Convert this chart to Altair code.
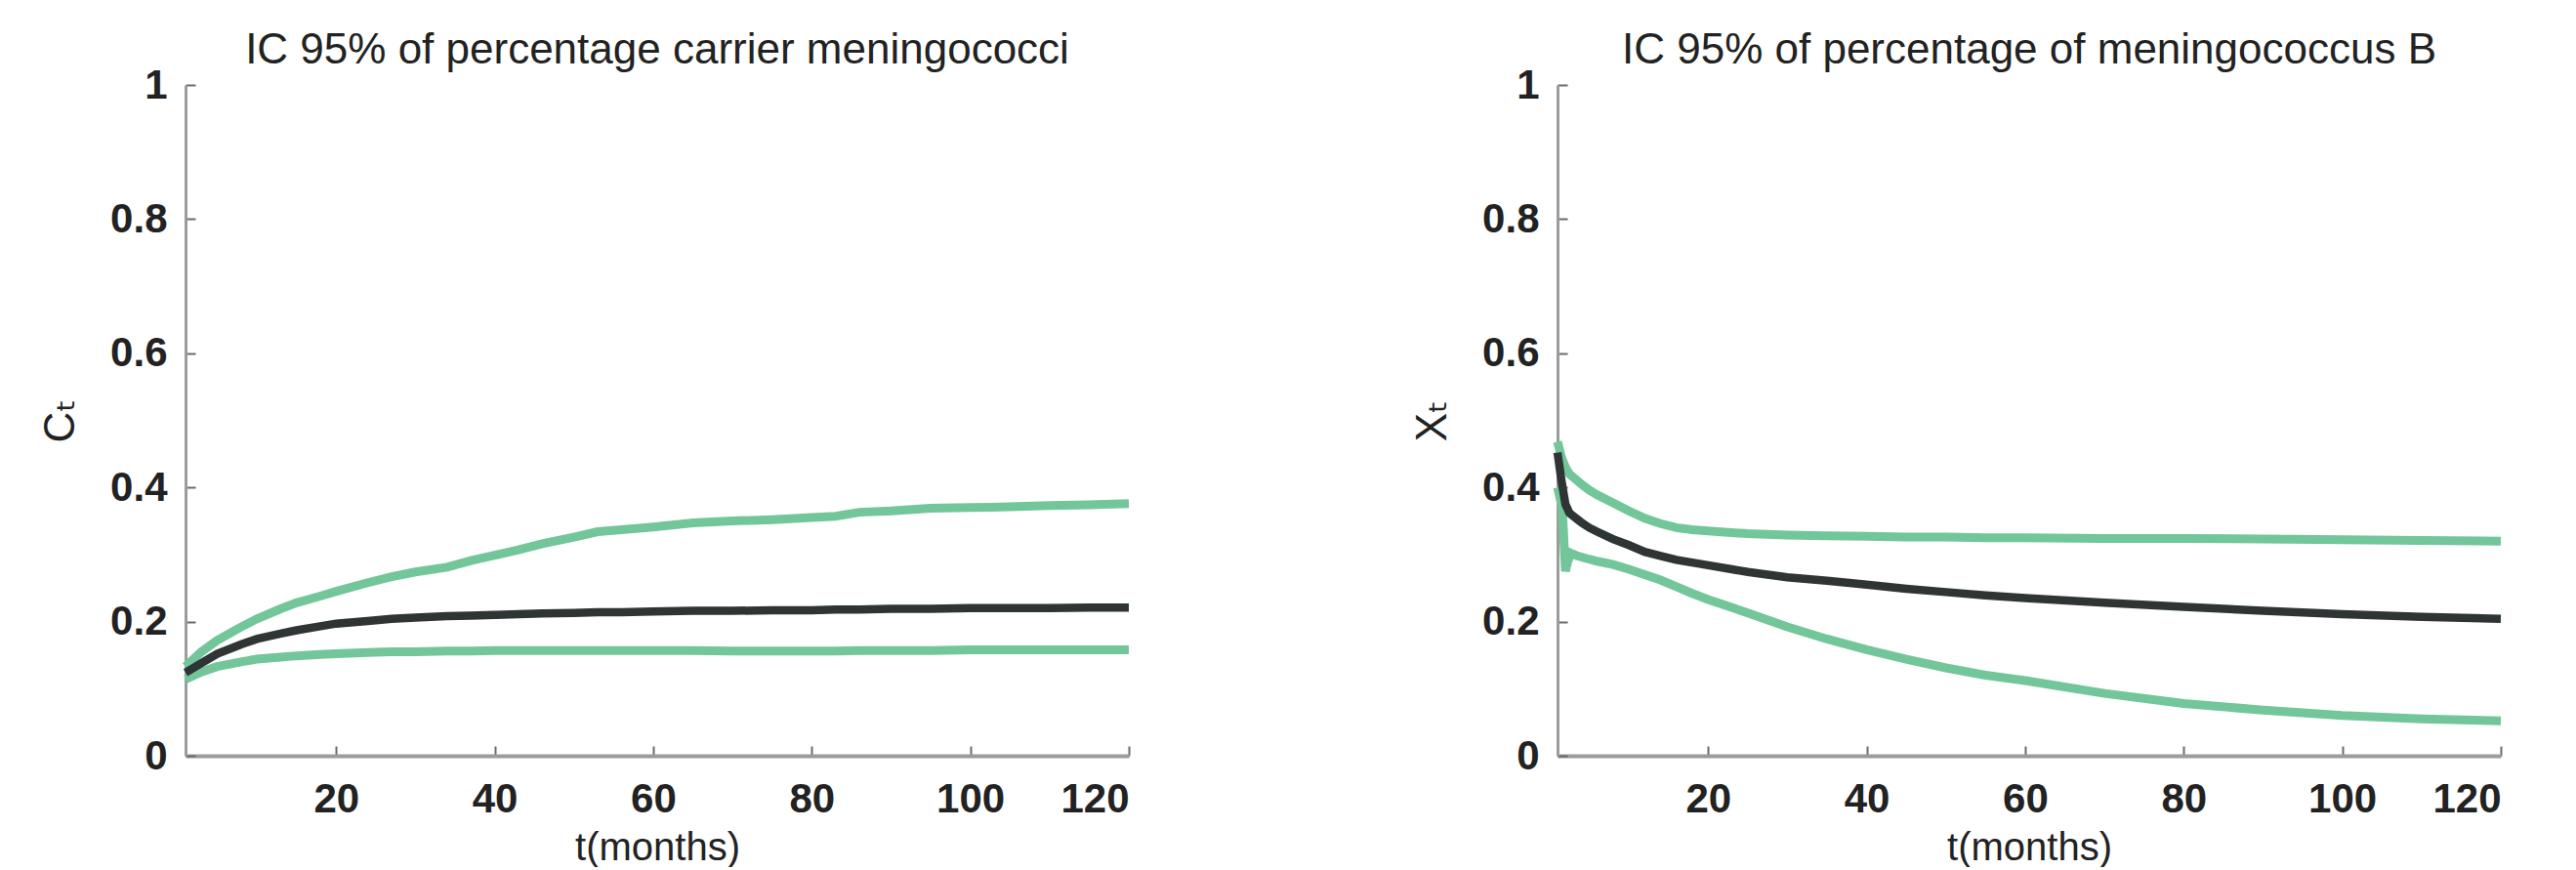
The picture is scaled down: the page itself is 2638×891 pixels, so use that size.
import altair as alt
import pandas as pd

# ---------------- data ----------------
months_c = [1, 3, 5, 8, 10, 13, 15, 18, 20, 24, 27, 30, 34, 37, 40, 43, 46, 50, 53, 56,
            60, 65, 70, 75, 80, 83, 86, 90, 95, 100, 105, 110, 115, 120]
upper_c = [0.133, 0.155, 0.172, 0.192, 0.204, 0.219, 0.228, 0.238, 0.245, 0.258, 0.267, 0.274,
           0.281, 0.291, 0.299, 0.307, 0.316, 0.326, 0.334, 0.337, 0.341, 0.347, 0.350, 0.352,
           0.355, 0.357, 0.363, 0.365, 0.369, 0.370, 0.371, 0.373, 0.374, 0.376]
mean_c = [0.124, 0.138, 0.152, 0.166, 0.174, 0.182, 0.187, 0.193, 0.197, 0.201, 0.204, 0.206,
          0.208, 0.209, 0.210, 0.211, 0.212, 0.213, 0.214, 0.214, 0.215, 0.216, 0.216, 0.217,
          0.217, 0.218, 0.218, 0.219, 0.219, 0.220, 0.220, 0.220, 0.221, 0.221]
lower_c = [0.114, 0.125, 0.133, 0.140, 0.144, 0.147, 0.149, 0.151, 0.152, 0.154, 0.155, 0.155,
           0.156, 0.156, 0.157, 0.157, 0.157, 0.157, 0.157, 0.157, 0.157, 0.157, 0.156, 0.156,
           0.156, 0.156, 0.157, 0.157, 0.157, 0.158, 0.158, 0.158, 0.158, 0.158]

months_x = [1, 1.5, 2, 2.5, 3, 4, 5, 6, 8, 10, 12, 14, 16, 18, 20, 25, 30, 35, 40, 45, 50,
            55, 60, 70, 80, 90, 100, 110, 120]
upper_x = [0.468, 0.445, 0.430, 0.420, 0.415, 0.405, 0.396, 0.389, 0.377, 0.365, 0.354, 0.346,
           0.340, 0.337, 0.335, 0.331, 0.329, 0.328, 0.327, 0.326, 0.326, 0.325, 0.325, 0.324,
           0.324, 0.323, 0.322, 0.321, 0.320]
mean_x = [0.452, 0.410, 0.375, 0.362, 0.357, 0.348, 0.340, 0.334, 0.323, 0.314, 0.304, 0.298,
          0.292, 0.288, 0.284, 0.274, 0.266, 0.261, 0.255, 0.249, 0.244, 0.239, 0.235, 0.228,
          0.222, 0.216, 0.211, 0.207, 0.204]
months_x_low = [1, 1.6, 2.0, 2.3, 2.7, 3.5, 5, 6, 8, 10, 12, 14, 16, 18, 20, 25, 30, 35, 40,
                45, 50, 55, 60, 70, 80, 90, 100, 110, 120]
lower_x = [0.400, 0.370, 0.275, 0.290, 0.302, 0.298, 0.293, 0.290, 0.285, 0.278, 0.270, 0.262,
           0.252, 0.242, 0.233, 0.213, 0.192, 0.174, 0.158, 0.144, 0.131, 0.120, 0.112, 0.093,
           0.078, 0.068, 0.060, 0.055, 0.052]

x_ticks = [20, 40, 60, 80, 100, 120]
y_ticks = [0, 0.2, 0.4, 0.6, 0.8, 1]

titles = ["IC 95% of percentage carrier meningococci", "IC 95% of percentage  of meningococcus B"]
y_titles = ["C\u209c", "X\u209c"]
x_title = "t(months)"

# ---------------- style ----------------
W, H = 966, 687
GREEN = "#72c69a"
DARK = "#2f3535"
AXC = "#9c9c9c"
TICKC = "#6a6a6a"
FONT = "Liberation Sans, Arial, Helvetica, DejaVu Sans, sans-serif"


def panel(months, upper, mean, low_months, lower, title, ytitle):
    green_df = pd.DataFrame({
        "month": list(months) + list(low_months),
        "value": list(upper) + list(lower),
        "bound": ["upper"] * len(months) + ["lower"] * len(low_months),
    })
    mean_df = pd.DataFrame({"month": months, "value": mean})
    xs = alt.Scale(domain=[1, 120], nice=False, zero=False)
    ys = alt.Scale(domain=[0, 1], nice=False)

    # inward ticks: tick-only axes moved onto the opposite edge
    green = alt.Chart(green_df).mark_line(color=GREEN, strokeWidth=9).encode(
        x=alt.X("month:Q", scale=xs,
                axis=alt.Axis(orient="top", offset=-H, values=x_ticks, labels=False,
                              domain=False, ticks=True, tickSize=10, tickWidth=2,
                              tickColor=TICKC, grid=False, title=None)),
        y=alt.Y("value:Q", scale=ys,
                axis=alt.Axis(orient="right", offset=-W, values=y_ticks, labels=False,
                              domain=False, ticks=True, tickSize=10, tickWidth=2,
                              tickColor=TICKC, grid=False, title=None)),
        detail="bound:N",
    )
    center = alt.Chart(mean_df).mark_line(color=DARK, strokeWidth=8.5).encode(
        x=alt.X("month:Q", scale=xs,
                axis=alt.Axis(orient="bottom", values=x_ticks, ticks=False, tickSize=0,
                              labelPadding=24, title=x_title, titlePadding=9,
                              titleFontSize=40,
                              domainColor=AXC, domainWidth=4, grid=False)),
        y=alt.Y("value:Q", scale=ys,
                axis=alt.Axis(orient="left", values=y_ticks, ticks=False, tickSize=0,
                              labelPadding=19, format="~g", title=ytitle, titlePadding=28,
                              domainColor=AXC, domainWidth=3, grid=False)),
    )
    return alt.layer(green, center).resolve_axis(x="independent", y="independent").properties(
        width=W, height=H, title=alt.Title(title)
    )


left = panel(months_c, upper_c, mean_c, months_c, lower_c, titles[0], y_titles[0])
right = panel(months_x, upper_x, mean_x, months_x_low, lower_x, titles[1], y_titles[1])

chart = alt.hconcat(left, right, spacing=439, bounds="flush").properties(
    padding={"left": 32, "top": 22, "right": 0, "bottom": 0}
).configure_view(stroke=None).configure_axis(
    labelFont=FONT, labelFontSize=42, labelFontWeight="bold", labelColor="#222222",
    titleFont=FONT, titleFontSize=44, titleFontWeight="normal", titleColor="#222222",
).configure_title(
    font=FONT, fontSize=44, fontWeight="normal", color="#222222", anchor="middle",
    frame="group", offset=-8,
)

chart.save("out.html", embed_options={"renderer": "svg", "actions": False})
